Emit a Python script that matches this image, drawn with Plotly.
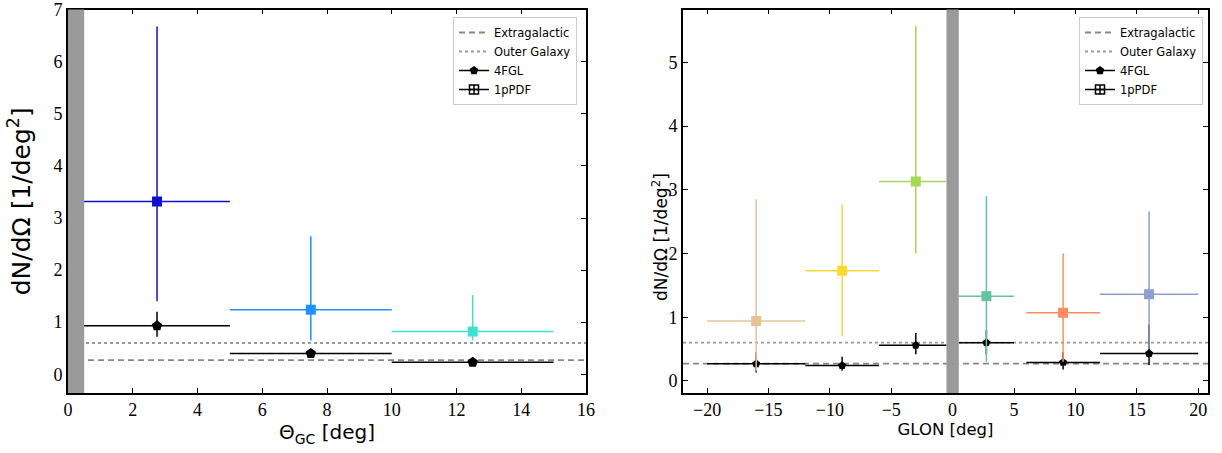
import plotly.graph_objects as go

# ---------------- data: left panel (Theta_GC) ----------------
theta_x = [2.75, 7.5, 12.5]
theta_lo = [0.0, 5.0, 10.0]
theta_hi = [5.0, 10.0, 15.0]
fgl_theta_y = [0.93, 0.40, 0.23]
fgl_theta_ylo = [0.72, 0.37, 0.20]
fgl_theta_yhi = [1.20, 0.44, 0.27]
pdf_theta_y = [3.32, 1.24, 0.82]
pdf_theta_ylo = [1.40, 0.65, 0.65]
pdf_theta_yhi = [6.68, 2.65, 1.52]
theta_colors = ["#1010D2", "#1E90FF", "#40E0D0"]

# ---------------- data: right panel (GLON) ----------------
glon_x = [-16.0, -9.0, -3.0, 2.75, 9.0, 16.0]
glon_lo = [-20.0, -12.0, -6.0, 0.5, 6.0, 12.0]
glon_hi = [-12.0, -6.0, -0.5, 5.0, 12.0, 20.0]
fgl_glon_y = [0.27, 0.24, 0.56, 0.60, 0.29, 0.43]
fgl_glon_ylo = [0.13, 0.16, 0.42, 0.42, 0.18, 0.25]
fgl_glon_yhi = [0.45, 0.38, 0.75, 0.80, 0.45, 0.88]
pdf_glon_y = [0.94, 1.73, 3.13, 1.33, 1.07, 1.36]
pdf_glon_ylo = [0.15, 0.70, 2.00, 0.30, 0.30, 0.50]
pdf_glon_yhi = [2.85, 2.77, 5.57, 2.90, 2.00, 2.66]
glon_colors = ["#E5C494", "#FFD92F", "#A6D854", "#66C2A5", "#FC8D62", "#8DA0CB"]

extragalactic = 0.27
outer_galaxy = 0.60

left_xrange = [0, 16]
left_yrange = [-0.36, 7.005]
right_xrange = [-21.96, 20.8]
right_yrange = [-0.19, 5.83]
left_mask = [0, 0.5]
right_mask = [-0.5, 0.5]

W, H = 1222, 453
fig = go.Figure()

def px(v, total):
    return v / total

def add_err(xs, los, his, ys, ylos, yhis, colors, symbol, size, xa, ya):
    for i in range(len(xs)):
        c = colors[i] if isinstance(colors, list) else colors
        fig.add_trace(go.Scatter(
            x=[xs[i]], y=[ys[i]], mode="markers",
            marker=dict(symbol=symbol, size=size, color=c, line=dict(width=0)),
            error_x=dict(type="data", symmetric=False, array=[his[i] - xs[i]],
                         arrayminus=[xs[i] - los[i]], color=c, thickness=1.5, width=0),
            error_y=dict(type="data", symmetric=False, array=[yhis[i] - ys[i]],
                         arrayminus=[ys[i] - ylos[i]], color=c, thickness=1.5, width=0),
            xaxis=xa, yaxis=ya, showlegend=False, hoverinfo="skip"))

def add_refs(xr, xa, ya, legend):
    fig.add_trace(go.Scatter(x=xr, y=[extragalactic] * 2, mode="lines",
                             line=dict(color="#888888", width=1.8, dash="6px,4px"),
                             name="Extragalactic", xaxis=xa, yaxis=ya, legend=legend))
    fig.add_trace(go.Scatter(x=xr, y=[outer_galaxy] * 2, mode="lines",
                             line=dict(color="#999999", width=1.8, dash="dot"),
                             name="Outer Galaxy", xaxis=xa, yaxis=ya, legend=legend))

def add_legend_dummies(xa, ya, legend):
    fig.add_trace(go.Scatter(x=[None], y=[None], mode="lines+markers",
                             line=dict(color="black", width=1.5),
                             marker=dict(symbol="pentagon", size=9, color="black"),
                             name="4FGL", xaxis=xa, yaxis=ya, legend=legend))
    fig.add_trace(go.Scatter(x=[None], y=[None], mode="lines+markers",
                             line=dict(color="black", width=1.5),
                             marker=dict(symbol="square-cross-open", size=9, color="black",
                                         line=dict(width=1.5)),
                             name="1pPDF", xaxis=xa, yaxis=ya, legend=legend))

# left panel
add_refs(left_xrange, "x", "y", "legend")
add_err(theta_x, theta_lo, theta_hi, fgl_theta_y, fgl_theta_ylo, fgl_theta_yhi,
        "black", "pentagon", 11, "x", "y")
add_err(theta_x, theta_lo, theta_hi, pdf_theta_y, pdf_theta_ylo, pdf_theta_yhi,
        theta_colors, "square", 10, "x", "y")
add_legend_dummies("x", "y", "legend")

# right panel
add_refs(right_xrange, "x2", "y2", "legend2")
add_err(glon_x, glon_lo, glon_hi, fgl_glon_y, fgl_glon_ylo, fgl_glon_yhi,
        "black", "pentagon", 8.5, "x2", "y2")
add_err(glon_x, glon_lo, glon_hi, pdf_glon_y, pdf_glon_ylo, pdf_glon_yhi,
        glon_colors, "square", 10, "x2", "y2")
add_legend_dummies("x2", "y2", "legend2")

# grey masked bands
fig.add_shape(type="rect", xref="x", yref="y domain", x0=left_mask[0], x1=left_mask[1],
              y0=0, y1=1, fillcolor="#9a9a9a", line=dict(width=0), layer="above")
fig.add_shape(type="rect", xref="x2", yref="y2 domain", x0=right_mask[0], x1=right_mask[1],
              y0=0, y1=1, fillcolor="#9a9a9a", line=dict(width=0), layer="above")

tickfont = dict(family="Liberation Serif, DejaVu Serif, serif", size=18, color="black")
axis_common = dict(showgrid=False, zeroline=False, showline=True, linecolor="black",
                   linewidth=1.6, mirror="ticks", ticks="inside", ticklen=5, tickwidth=1,
                   tickcolor="black", tickfont=tickfont, automargin=False)
labfont = dict(family="DejaVu Sans, sans-serif", color="black")
legfont = dict(family="DejaVu Sans, sans-serif", size=11.5, color="black")

top_px, bot_px = 9.5, 393

fig.update_layout(
    template="none",
    width=W, height=H, margin=dict(l=0, r=0, t=0, b=0, pad=0), autosize=False,
    paper_bgcolor="white", plot_bgcolor="white",
    xaxis=dict(domain=[px(68, W), px(586, W)], range=left_xrange, dtick=2, anchor="y",
               title=dict(text="Θ<sub>GC</sub> [deg]", font=dict(size=20, **labfont), standoff=2),
               **axis_common),
    yaxis=dict(domain=[1 - bot_px / H, 1 - top_px / H], range=left_yrange, dtick=1, anchor="x",
               title=dict(text="dN/dΩ [1/deg<sup>2</sup>]", font=dict(size=25, **labfont), standoff=16),
               **axis_common),
    xaxis2=dict(domain=[px(683, W), px(1208, W)], range=right_xrange, dtick=5, anchor="y2",
                title=dict(text="GLON [deg]", font=dict(size=16.5, **labfont), standoff=2),
                **axis_common),
    yaxis2=dict(domain=[1 - bot_px / H, 1 - top_px / H], range=right_yrange, dtick=1, anchor="x2",
                **axis_common),
    legend=dict(x=px(577, W), y=1 - 17 / H, xanchor="right", yanchor="top",
                bgcolor="white", bordercolor="#cccccc", borderwidth=1,
                font=legfont, tracegroupgap=0, itemwidth=30),
    legend2=dict(x=px(1203, W), y=1 - 17 / H, xanchor="right", yanchor="top",
                 bgcolor="white", bordercolor="#cccccc", borderwidth=1,
                 font=legfont, tracegroupgap=0, itemwidth=30),
    annotations=[dict(text="dN/dΩ [1/deg<sup>2</sup>]", textangle=-90, showarrow=False,
                      xref="paper", yref="paper", x=px(660, W), y=1 - 237 / H,
                      xanchor="center", yanchor="middle",
                      font=dict(size=17, **labfont))],
)

fig.write_html("out.html", config={"displayModeBar": False},
               post_script="document.body.style.margin='0';document.body.style.padding='0';")
